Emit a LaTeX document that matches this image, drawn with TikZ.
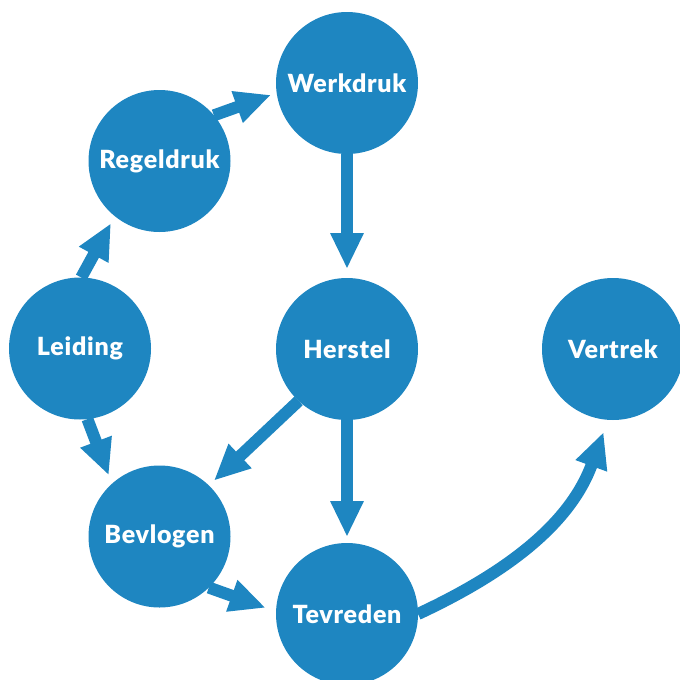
\documentclass[tikz,border=0pt]{standalone}
\usepackage{fontspec}
\IfFontExistsTF{Lato Black}{\newfontfamily\heavyfont{Lato Black}[LetterSpace=3]}{\newfontfamily\heavyfont{Lato}[UprightFont=* Bold,LetterSpace=3]}
\usetikzlibrary{arrows.meta}
\definecolor{bub}{RGB}{30,134,193}
\begin{document}
\begin{tikzpicture}[x=1pt,y=-1pt,
  bubble/.style={circle,fill=bub,minimum size=142pt,inner sep=0pt,outer sep=0pt,
    text=white,font=\heavyfont\fontsize{25}{27}\selectfont},
  conn/.style={draw=bub,line width=12pt,-{Triangle[width=31pt,length=36pt]}}]
\path[use as bounding box] (0,0) rectangle (680,680);
\clip (0,0) rectangle (680,680);
\node[bubble] (werk) at (347,83) {Werkdruk};
\node[bubble] (reg) at (159.5,161) {Regeldruk};
\node[bubble] (lei) at (80,348.5) {Leiding};
\node[bubble] (her) at (347,349) {Herstel};
\node[bubble] (ver) at (613,349) {Vertrek};
\node[bubble] (bev) at (159.5,536.5) {Bevlogen};
\node[bubble] (tev) at (347,614) {Tevreden};
\draw[conn,shorten >=9pt] (werk.-90) -- (her.90);
\draw[conn,shorten >=6pt] (her.-90) -- (tev.90);
\draw[conn,shorten >=6pt] (reg.40) -- (werk.188);
\draw[conn,shorten >=8pt] (lei.89) -- (reg.231);
\draw[conn,shorten >=9pt] (lei.-84) -- (bev.132);
\draw[conn,shorten >=7pt] (her.227) -- (bev.46);
\draw[conn,shorten >=11pt] (bev.-46) -- (tev.178);
\draw[conn,shorten >=13pt] (tev.0) to[out=25,in=-110] (ver.266);
\end{tikzpicture}
\end{document}
